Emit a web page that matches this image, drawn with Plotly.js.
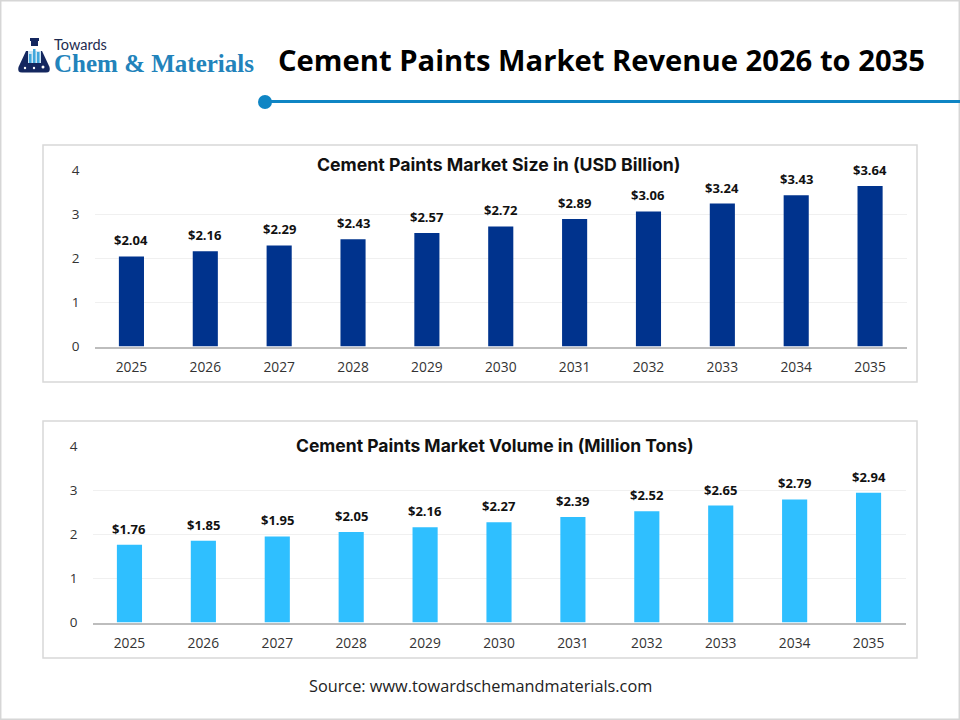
<!DOCTYPE html>
<html><head><meta charset="utf-8">
<script src="https://cdn.plot.ly/plotly-3.0.1.min.js"></script>
<style>html,body{margin:0;padding:0;background:#fff}#c{width:960px;height:720px}</style>
</head><body><div id="c"></div>
<script>
var years = ["2025","2026","2027","2028","2029","2030","2031","2032","2033","2034","2035"];
var sizeValues = [2.04,2.16,2.29,2.43,2.57,2.72,2.89,3.06,3.24,3.43,3.64];
var volumeValues = [1.76,1.85,1.95,2.05,2.16,2.27,2.39,2.52,2.65,2.79,2.94];
var yTicks = [0,1,2,3,4];
var mainTitle = "Cement Paints Market Revenue 2026 to 2035";
var sizeTitle = "Cement Paints Market Size in (USD Billion)";
var volumeTitle = "Cement Paints Market Volume in (Million Tons)";
var sourceText = "Source: www.towardschemandmaterials.com";

var W = 960, H = 720;
function px(x){return x/W;}
function py(y){return 1-y/H;}
function fmt(v){return "$"+v.toFixed(2);}
function bar(vals,color,xa,ya){
  return {type:"bar",x:years,y:vals,xaxis:xa,yaxis:ya,marker:{color:color,line:{width:0}},hoverinfo:"skip"};
}
function valueLabels(vals,xa,ya){
  return vals.map(function(v,i){
    return {text:fmt(v),x:i,y:v,xref:xa,yref:ya,showarrow:false,xanchor:"center",yanchor:"middle",yshift:16,
      font:{family:"Open Sans",size:13,color:"#111",weight:700}};
  });
}
function yax(anchor,top,bottom){
  return {anchor:anchor,domain:[py(bottom),py(top)],range:[0,4],tickvals:yTicks,ticks:"",
    showline:false,zeroline:false,gridcolor:"#f0f0f0",gridwidth:1,
    tickfont:{family:"Open Sans",size:13.5,color:"#333"},ticklabelstandoff:14,fixedrange:true};
}
function xax(anchor,l,r){
  return {anchor:anchor,domain:[px(l),px(r)],type:"category",categoryorder:"array",categoryarray:years,
    range:[-0.5,years.length-0.5],tickvals:years,ticks:"",
    showline:true,linecolor:"#bdbdbd",linewidth:2,showgrid:false,zeroline:false,
    tickfont:{family:"Open Sans",size:13.8,color:"#333"},ticklabelstandoff:7,fixedrange:true};
}
function rect(x0,y0,x1,y1,line,fill){
  return {type:"rect",xref:"paper",yref:"paper",x0:px(x0),x1:px(x1),y0:py(y0),y1:py(y1),
    line:{color:line,width:1.5},fillcolor:fill||"rgba(0,0,0,0)",layer:"below"};
}
function solid(x0,y0,x1,y1,fill){
  return {type:"rect",xref:"paper",yref:"paper",x0:px(x0),x1:px(x1),y0:py(y0),y1:py(y1),line:{width:0},fillcolor:fill};
}
function dot(cx,cy,r,fill){
  return {type:"circle",xref:"paper",yref:"paper",x0:px(cx-r),x1:px(cx+r),y0:py(cy-r),y1:py(cy+r),line:{width:0},fillcolor:fill};
}
function note(text,x,y,size,color,family,weight,anchor){
  return {text:text,xref:"paper",yref:"paper",x:px(x),y:py(y),showarrow:false,xanchor:anchor||"center",yanchor:"middle",
    font:{family:family,size:size,color:color,weight:weight||400}};
}
var navy="#14275f", blue="#0f85c4", sky="#3fa7dc";
var shapes=[
  rect(0.7,0.7,959.3,719.3,"#d6d6d6"),
  rect(43,145,917,382,"#d8d8d8"),
  rect(43,421,917,658,"#d8d8d8"),
  {type:"line",xref:"paper",yref:"paper",x0:px(265),x1:px(960),y0:py(101.5),y1:py(101.5),line:{color:blue,width:3}},
  dot(265,102,7,blue),
  {type:"path",xref:"paper",yref:"paper",line:{width:0},fillcolor:navy,
   path:"M "+px(26)+" "+py(51)+" L "+px(42)+" "+py(51)+" L "+px(49.5)+" "+py(67)+" Q "+px(51)+" "+py(72.5)+" "+px(46)+" "+py(72.5)+" L "+px(22)+" "+py(72.5)+" Q "+px(17)+" "+py(72.5)+" "+px(18.5)+" "+py(67)+" Z"},
  solid(30,38,39,41,navy),
  solid(31,41,38,46,navy),
  solid(28,51,41,63,"#cfe6f3"),
  solid(29,54,31.5,63,sky),
  solid(33,49,35.5,63,sky),
  solid(37,52,39.5,63,sky),
  dot(25,68,1.2,"#fff"),dot(34,68,1.2,"#fff"),dot(43,67,1.5,"#fff")
];
var annotations=[
  note(mainTitle,601,60,29.2,"#000","Open Sans",700),
  note(sizeTitle,498,165,17.7,"#111","Inter",700),
  note(volumeTitle,495,445,17.5,"#111","Inter",700),
  note(sourceText,480,685.5,16.3,"#222","Open Sans",400),
  note("Towards",51.5,44,14.5,"#1d2b50","Lato",400,"left"),
  note("Chem &amp; Materials",51.5,63,25,"#2283bb","Liberation Serif",700,"left")
].concat(valueLabels(sizeValues,"x","y"),valueLabels(volumeValues,"x2","y2"));
var layout={width:W,height:H,margin:{l:0,r:0,t:0,b:0},paper_bgcolor:"#fff",plot_bgcolor:"rgba(0,0,0,0)",
  showlegend:false,bargap:0.66,font:{family:"Open Sans"},
  xaxis:xax("y",94.5,907),yaxis:yax("x",170,346.5),
  xaxis2:xax("y2",92.5,905.5),yaxis2:yax("x2",446,622.5),
  shapes:shapes,annotations:annotations};
Plotly.newPlot("c",[bar(sizeValues,"#00338d","x","y"),bar(volumeValues,"#2fbfff","x2","y2")],layout,{displayModeBar:false,staticPlot:true});
</script></body></html>
